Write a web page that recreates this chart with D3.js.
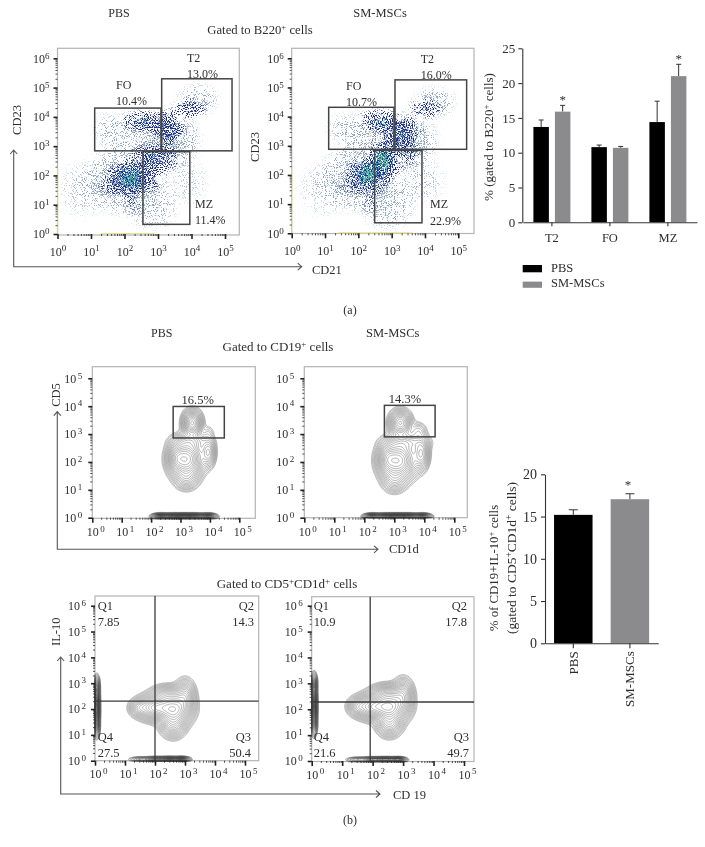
<!DOCTYPE html>
<html><head><meta charset="utf-8">
<script src="https://cdn.jsdelivr.net/npm/d3@7"></script>
<style>
html,body{margin:0;padding:0;background:#fff}
svg{display:block;filter:blur(.3px)}
text{font-family:"Liberation Serif",serif;fill:#2e2e2e;font-size:12px}
</style></head><body>
<svg id="chart" width="705" height="847"></svg>
<script>
// ---------- DATA ----------
const groupsA = ["T2","FO","MZ"];
const seriesNames = ["PBS","SM-MSCs"];
const barPBS_A   = [13.7,10.8,14.4];
const barSM_A    = [15.9,10.7,21.0];
const errPBS_A   = [14.7,11.1,17.4];
const errSM_A    = [16.8,10.9,22.7];
const starsA     = ["T2","MZ"];
const barB       = [15.2,17.05];
const errB       = [15.8,17.7];
const ticksBarA  = [0,5,10,15,20,25];
const ticksBarB  = [0,5,10,15,20];

// gates: [x from, x to, y from, y to] in decades
const gatesA1 = [[1.11,3.09,2.84,4.30],[3.11,5.21,2.84,5.30],[2.55,3.95,0.33,2.81]];
const gatesA2 = [[1.11,3.07,2.88,4.32],[3.10,5.25,2.88,5.26],[2.49,3.91,0.36,2.84]];
const gateB1  = [[2.75,4.49,2.86,3.99]];
const gateB2  = [[2.67,4.36,2.90,4.03]];
const quadB3  = [2.00,2.31];
const quadB4  = [1.92,2.28];
const pctA1 = ["T2","13.0%","FO","10.4%","MZ","11.4%"];
const pctA2 = ["T2","16.0%","FO","10.7%","MZ","22.9%"];
const pctB1 = "16.5%", pctB2 = "14.3%";
const quadTextB3 = ["7.85","14.3","27.5","50.4"];
const quadTextB4 = ["10.9","17.8","21.6","49.7"];

// pseudocolour density regions: [x, y, spread x, spread y, density] in decades
const haloA1 = [[1.9,1.8,1.3,1.3,.6],[2.8,1.0,.9,1.0,.4],[2.0,3.4,1.0,.8,.38],[3.3,3.2,1.1,1.1,.62],[3.9,1.8,.7,.9,.22],[0.7,1.5,.8,1.1,.24],[4.2,4.6,.7,.6,.45],[1.5,3.7,.6,.5,.16]];
const denseA1 = [[2.15,1.9,.8,.85,.78],[2.75,2.1,.6,.8,.5],[2.55,3.85,.8,.4,.68],[3.3,3.6,.6,.7,.74],[3.95,4.3,.6,.42,.55],[2.75,2.7,.65,.5,.6],[3.3,2.6,.6,.5,.42],[1.5,1.7,.5,.5,.28],[2.3,1.0,.4,.4,.26]];
const coreA1 = [[2.2,1.9,.45,.52,.65],[2.6,3.85,.32,.16,.34],[2.85,2.55,.35,.28,.3],[3.3,3.6,.25,.3,.14]];
const hotA1 = [[2.2,1.9,.2,.24,.38]];
const haloA2 = [[2.0,1.9,1.3,1.3,.6],[2.9,1.0,.9,1.0,.42],[2.1,3.4,1.0,.8,.38],[3.4,3.2,1.1,1.1,.62],[3.9,1.8,.8,.9,.28],[0.9,1.5,.8,1.1,.22],[4.3,4.5,.7,.6,.45],[1.5,3.7,.6,.5,.16]];
const denseA2 = [[2.3,2.0,.75,.85,.78],[2.8,2.4,.6,.75,.62],[2.65,3.85,.8,.45,.64],[3.35,3.45,.65,.7,.7],[4.05,4.3,.6,.42,.5],[2.85,3.0,.65,.5,.55],[3.4,2.7,.6,.55,.38],[1.7,1.7,.55,.5,.28],[2.4,1.0,.4,.45,.26]];
const coreA2 = [[2.3,2.05,.45,.55,.65],[2.75,2.5,.38,.55,.65],[2.7,3.85,.38,.22,.38],[3.3,3.4,.38,.3,.28]];
const hotA2 = [[2.35,2.05,.24,.3,.42],[2.78,2.5,.2,.32,.46]];
const pileA1 = [1.3,2.9], pileA2 = [1.4,3.6];

// contour components: [x, y, sigma x, sigma y, weight] in decades
const contourB1 = [[3.2,2.1,.3,.36,1],[3.4,3.4,.17,.24,.72],[3.95,2.35,.13,.27,.36],[2.85,2.15,.16,.27,.34],[3.2,1.4,.22,.22,.22],[3.35,2.75,.35,.16,.2],[3.95,3.05,.12,.16,.05]];
const contourB2 = [[3.13,2.05,.32,.36,1],[3.2,3.4,.19,.24,.62],[3.9,2.3,.14,.3,.42],[2.75,2.1,.17,.3,.36],[3.0,1.35,.22,.24,.24],[3.4,2.7,.4,.17,.24],[3.8,3.1,.16,.18,.12]];
const contourB3 = [[2.65,2.0,.3,.32,1],[2.0,2.05,.33,.25,.8],[1.45,2.05,.16,.17,.22],[3.0,2.5,.18,.33,.42],[2.6,1.4,.22,.27,.42],[2.4,2.55,.3,.2,.3]];
const contourB4 = [[2.6,2.1,.3,.32,1],[2.0,2.1,.33,.25,.8],[1.5,2.1,.16,.17,.22],[3.0,2.55,.18,.33,.42],[2.55,1.45,.22,.27,.42],[2.45,2.6,.3,.2,.3]];
const bandB1 = [[2.3,.05,.14,.05,1],[2.7,.05,.2,.05,1],[3.1,.05,.2,.05,1],[3.5,.05,.2,.05,1],[3.95,.05,.14,.05,1]];
const bandB2 = [[2.25,.05,.14,.05,1],[2.7,.05,.2,.05,1],[3.1,.05,.2,.05,1],[3.5,.05,.2,.05,1],[3.95,.05,.14,.05,1]];
const bandsB3 = [[1.5,.05,.18,.05,.3],[2.0,.05,.2,.05,.7],[2.5,.05,.2,.05,1],[2.9,.05,.13,.05,1],[.06,1.35,.05,.22,.7],[.06,1.85,.05,.25,1],[.06,2.35,.05,.28,1],[.06,2.9,.05,.2,.6]];
const bandsB4 = [[1.5,.05,.18,.05,.3],[2.0,.05,.2,.05,.7],[2.45,.05,.2,.05,1],[2.85,.05,.13,.05,1],[.08,1.4,.05,.22,.6],[.08,1.9,.05,.25,.9],[.08,2.4,.05,.28,1],[.08,3.0,.05,.2,.7]];
const contourLevels = [.025,.035,.05,.065,.085,.11,.14,.175,.215,.26,.31,.37,.44,.52,.6,.69,.79,.9,1.02,1.15,1.3,1.45];
const bandLevels = [.03,.05,.08,.12,.17,.23,.3,.37,.44,.51,.58,.65,.72,.79,.86,.93,1.0,1.07,1.14,1.21];

// ---------- LAYOUT ----------
const panelA1 = {left:57.5,right:239.3,top:48.3,bottom:235,x0:57.5,x5:225,y0:234,yT:58.3,dec:6,xPad:8,yPad:4,xShift:0};
const panelA2 = {left:291.7,right:474,top:48.3,bottom:233.5,x0:291.7,x5:458.3,y0:233.3,yT:58.3,dec:6,xPad:8,yPad:4,xShift:0};
const panelB1 = {left:92.3,right:255.3,top:366.7,bottom:518.3,x0:92.3,x5:239.3,y0:517.7,yT:378.3,dec:5,xPad:5,yPad:6,xShift:3};
const panelB2 = {left:304.3,right:467.3,top:366.7,bottom:517.7,x0:304.3,x5:454.3,y0:517.7,yT:378.3,dec:5,xPad:5,yPad:6,xShift:3};
const panelB3 = {left:95,right:258.7,top:596,bottom:760.7,x0:95,x5:245,y0:760.7,yT:605.7,dec:6,xPad:4,yPad:5,xShift:3};
const panelB4 = {left:311.7,right:474,top:596.7,bottom:761.5,x0:311.7,x5:464,y0:761,yT:605.7,dec:6,xPad:4,yPad:5,xShift:3};

const svg = d3.select("#chart");
const defs = svg.append("defs");
const INK = "#2e2e2e";
const fade = defs.append("radialGradient").attr("id","fade");
fade.append("stop").attr("offset",0).attr("stop-color","#000").attr("stop-opacity",1);
fade.append("stop").attr("offset",.55).attr("stop-color","#000").attr("stop-opacity",.62);
fade.append("stop").attr("offset",1).attr("stop-color","#000").attr("stop-opacity",0);

function scalesOf(p){
  return {
    x:d3.scaleLog().domain([1,1e5]).range([p.x0,p.x5]),
    y:d3.scaleLog().domain([1,10**p.dec]).range([p.y0,p.yT])
  };
}
let clipN=0, filtN=0;
function frameClip(p){
  const id="clip"+(clipN++);
  defs.append("clipPath").attr("id",id).append("rect")
    .attr("x",p.left).attr("y",p.top).attr("width",p.right-p.left).attr("height",p.bottom-p.top);
  return "url(#"+id+")";
}
function drawFrame(p){
  svg.append("rect").attr("x",p.left).attr("y",p.top).attr("width",p.right-p.left).attr("height",p.bottom-p.top)
    .attr("fill","none").attr("stroke","#b4b4b4").attr("stroke-width",1.2);
}
function drawAxes(p,s,fontSize){
  const g=svg.append("g");
  const minors=(sc,n)=>d3.range(0,n).flatMap(k=>d3.range(2,10).map(m=>m*10**k));
  const powers=n=>d3.range(0,n+1).map(k=>10**k);
  const style=(sel,w)=>{sel.select(".domain").remove();sel.selectAll("line").attr("stroke","#222").attr("stroke-width",w);};
  g.append("g").attr("transform",`translate(0,${p.y0})`).call(d3.axisBottom(s.x).tickValues(minors(s.x,5)).tickSize(2).tickFormat("")).call(style,.8);
  g.append("g").attr("transform",`translate(${p.x0},0)`).call(d3.axisLeft(s.y).tickValues(minors(s.y,p.dec)).tickSize(2).tickFormat("")).call(style,.8);
  const sup=(sel)=>sel.selectAll("text").each(function(d){
    d3.select(this).append("tspan").attr("dy","-0.45em").attr("dx",p.xShift?1.5:0).attr("font-size",fontSize-4+"px").text(Math.round(Math.log10(d)));
  });
  const xg=g.append("g").attr("transform",`translate(0,${p.y0})`)
    .call(d3.axisBottom(s.x).tickValues(powers(5)).tickSize(5).tickPadding(p.xPad).tickFormat(()=>"10")).call(style,1.6);
  xg.selectAll("text").attr("font-size",fontSize+"px").attr("font-family",null).attr("dx",p.xShift);
  sup(xg);
  const yg=g.append("g").attr("transform",`translate(${p.x0},0)`)
    .call(d3.axisLeft(s.y).tickValues(powers(p.dec)).tickSize(4).tickPadding(p.yPad).tickFormat(()=>"10")).call(style,1.6);
  yg.selectAll("text").attr("font-size",fontSize+"px");
  sup(yg);
  g.selectAll("text").attr("font-family",null).style("font-family",'"Liberation Serif",serif').style("fill",INK);
}
function drawGates(s,gates){
  svg.append("g").selectAll("rect").data(gates).join("rect")
    .attr("x",d=>s.x(10**d[0])).attr("y",d=>s.y(10**d[3]))
    .attr("width",d=>s.x(10**d[1])-s.x(10**d[0])).attr("height",d=>s.y(10**d[2])-s.y(10**d[3]))
    .attr("fill","none").attr("stroke","#444").attr("stroke-width",1.5);
}
// speckled density layer: the regions are blurred and broken into dots by an SVG filter
function speckLayer(parent,p,s,regions,color,blur,seed,freq){
  const id="speck"+(filtN++);
  const f=defs.append("filter").attr("id",id).attr("filterUnits","userSpaceOnUse")
    .attr("x",p.left).attr("y",p.top).attr("width",p.right-p.left).attr("height",p.bottom-p.top)
    .attr("color-interpolation-filters","sRGB");
  f.append("feGaussianBlur").attr("in","SourceAlpha").attr("stdDeviation",blur).attr("result","dens");
  f.append("feTurbulence").attr("type","fractalNoise").attr("baseFrequency",freq).attr("numOctaves",1).attr("seed",seed).attr("result","n");
  f.append("feColorMatrix").attr("in","n").attr("values","0 0 0 0 0 0 0 0 0 0 0 0 0 0 0 0 0 0 3.4 -1.2").attr("result","na");
  f.append("feComposite").attr("in","dens").attr("in2","na").attr("operator","arithmetic")
    .attr("k1",0).attr("k2",1).attr("k3",1).attr("k4",-1).attr("result","sum");
  const ct=f.append("feComponentTransfer").attr("in","sum").attr("result","mask");
  ct.append("feFuncA").attr("type","linear").attr("slope",4);
  f.append("feFlood").attr("flood-color",color).attr("result","col");
  f.append("feComposite").attr("in","col").attr("in2","mask").attr("operator","in");
  const dx=s.x(10)-s.x(1), dy=s.y(1)-s.y(10);
  parent.append("g").attr("filter","url(#"+id+")").selectAll("ellipse").data(regions).join("ellipse")
    .attr("cx",d=>s.x(10**d[0])).attr("cy",d=>s.y(10**d[1]))
    .attr("rx",d=>d[2]*dx).attr("ry",d=>d[3]*dy).attr("fill","url(#fade)").attr("fill-opacity",d=>d[4]);
}
function drawScatter(p,s,layers,pile,seed){
  const g=svg.append("g").attr("clip-path",frameClip(p));
  speckLayer(g,p,s,layers.halo,"#8fa7bf",3,seed,1.1);
  speckLayer(g,p,s,layers.dense,"#1f2f8a",2,seed+1,1.05);
  speckLayer(g,p,s,layers.core,"#37aeae",2,seed+2,.9);
  speckLayer(g,p,s,layers.hot,"#62cb7c",1.5,seed+3,.8);
  svg.append("line").attr("x1",s.x(10**pile[0])).attr("x2",s.x(10**pile[1])).attr("y1",p.y0-.5).attr("y2",p.y0-.5)
    .attr("stroke","#e7e38c").attr("stroke-width",1.2);
  svg.append("line").attr("x1",p.left+.5).attr("x2",p.left+.5).attr("y1",s.y(10**2.3)).attr("y2",p.y0)
    .attr("stroke","#eeecae").attr("stroke-width",1);
}
function drawContours(p,s,comps,bands){
  const w=Math.round(p.right-p.left), h=Math.round(p.bottom-p.top);
  const field=(list)=>{
    const vals=new Float64Array(w*h);
    for(let j=0;j<h;j++)for(let i=0;i<w;i++){
      const dx=Math.log10(s.x.invert(p.left+i+.5)), dy=Math.log10(s.y.invert(p.top+j+.5));
      let v=0;
      for(const c of list){const a=(dx-c[0])/c[2],b=(dy-c[1])/c[3];v+=c[4]*Math.exp(-.5*(a*a+b*b));}
      vals[i+j*w]=v;
    }
    return vals;
  };
  const g=svg.append("g").attr("transform",`translate(${p.left},${p.top})`).attr("fill","none");
  const path=d3.geoPath();
  const gen=d3.contours().size([w,h]).smooth(true);
  g.append("g").attr("stroke","#858585").attr("stroke-width",.6).selectAll("path")
    .data(gen.thresholds(contourLevels)(field(comps))).join("path").attr("d",path);
  g.append("g").attr("stroke","#3c3c3c").attr("stroke-width",.55).attr("stroke-opacity",.8).selectAll("path")
    .data(gen.thresholds(bandLevels)(field(bands))).join("path").attr("d",path);
}
function text(x,y,str,opts={}){
  const t=svg.append("text").attr("x",x).attr("y",y).attr("text-anchor",opts.anchor||"start");
  if(opts.size)t.style("font-size",opts.size+"px");
  if(opts.rotate)t.attr("transform",`rotate(-90 ${x} ${y})`);
  const parts=Array.isArray(str)?str:[str];
  let raised=false;
  parts.forEach((s)=>{
    const isSup=s.startsWith("^");
    const ts=t.append("tspan").text(isSup?s.slice(1):s);
    if(isSup){ts.attr("dy",-4).style("font-size",(opts.size||12)-4+"px");raised=true;}
    else if(raised){ts.attr("dy",4);raised=false;}
  });
  return t;
}
function arrows(vx,yBottom,yTop,xEnd){
  svg.append("path").attr("fill","none").attr("stroke","#555").attr("stroke-width",1.1)
    .attr("d",`M${vx-3.5},${yTop+4}L${vx},${yTop}L${vx+3.5},${yTop+4}M${vx},${yTop}V${yBottom}H${xEnd}M${xEnd-4},${yBottom-3.5}L${xEnd},${yBottom}L${xEnd-4},${yBottom+3.5}`);
}

// ---------- PANEL (a) ----------
const sA1=scalesOf(panelA1), sA2=scalesOf(panelA2);
drawFrame(panelA1); drawFrame(panelA2);
drawScatter(panelA1,sA1,{halo:haloA1,dense:denseA1,core:coreA1,hot:hotA1},pileA1,11);
drawScatter(panelA2,sA2,{halo:haloA2,dense:denseA2,core:coreA2,hot:hotA2},pileA2,23);
drawAxes(panelA1,sA1,13); drawAxes(panelA2,sA2,13);
drawGates(sA1,gatesA1); drawGates(sA2,gatesA2);
arrows(13.7,266.7,150,301.7);
text(119,17,"PBS",{anchor:"middle"});
text(380,17,"SM-MSCs",{anchor:"middle",size:12.5});
text(260,34,["Gated to B220","^+"," cells"],{anchor:"middle",size:12.7});
text(20.5,120,"CD23",{anchor:"middle",rotate:true,size:12.5});
text(258.5,147,"CD23",{anchor:"middle",rotate:true,size:12.5});
text(312,274,"CD21",{size:12.5});
text(350,314,"(a)",{anchor:"middle"});
[[187,62],[187,78],[116,89],[116,105],[195,208],[195,224]].forEach((q,i)=>text(q[0],q[1],pctA1[i]));
[[420.7,63],[420.7,78.7],[346,90],[346,105.7],[430,208],[430,225]].forEach((q,i)=>text(q[0],q[1],pctA2[i]));

// bar chart (a)
const yBarA=d3.scaleLinear().domain([0,25]).range([222.3,48.3]);
const xBarA=d3.scaleBand().domain(groupsA).range([522.9,696.9]);
const xInnerA=d3.scaleBand().domain(seriesNames).range([-18.5,18.5]).paddingInner(.28);
const barColors=d3.scaleOrdinal().domain(seriesNames).range(["#000000","#8b8b8d"]);
const barsA=groupsA.flatMap((g,i)=>[
  {g,s:"PBS",v:barPBS_A[i],e:errPBS_A[i]},
  {g,s:"SM-MSCs",v:barSM_A[i],e:errSM_A[i]}
]);
const bgA=svg.append("g");
const cx=d=>xBarA(d.g)+xBarA.bandwidth()/2+xInnerA(d.s);
bgA.selectAll("path").data(barsA).join("path").attr("fill","none").attr("stroke","#333").attr("stroke-width",1)
  .attr("d",d=>{const m=cx(d)+xInnerA.bandwidth()/2;return `M${m},${yBarA(d.v)}V${yBarA(d.e)}M${m-2.5},${yBarA(d.e)}H${m+2.5}`;});
bgA.selectAll("rect").data(barsA).join("rect").attr("x",cx).attr("width",xInnerA.bandwidth())
  .attr("y",d=>yBarA(d.v)).attr("height",d=>yBarA(0)-yBarA(d.v)).attr("fill",d=>barColors(d.s));
function styleBarAxis(sel,size){
  sel.selectAll("line,path").attr("stroke","#333").attr("stroke-width",1.1);
  sel.selectAll("text").attr("font-family",null).style("font-family",'"Liberation Serif",serif').style("font-size",size+"px").style("fill",INK);
}
svg.append("g").attr("transform","translate(522.3,0)")
  .call(d3.axisLeft(yBarA).tickValues(ticksBarA).tickSize(4).tickSizeOuter(0).tickPadding(3)).call(styleBarAxis,13);
svg.append("g").attr("transform","translate(0,222.3)")
  .call(d3.axisBottom(xBarA).tickSize(4).tickSizeOuter(0).tickPadding(7)).call(styleBarAxis,12.5);
starsA.forEach(g=>{
  const i=groupsA.indexOf(g);
  const m=xBarA(g)+xBarA.bandwidth()/2+xInnerA("SM-MSCs")+xInnerA.bandwidth()/2;
  text(m,yBarA(errSM_A[i])-1,"*",{anchor:"middle",size:13});
});
text(492.5,137,["% (gated to B220","^+"," cells)"],{anchor:"middle",rotate:true,size:13});
const legend=svg.append("g");
legend.selectAll("rect").data(seriesNames).join("rect").attr("x",522.7).attr("width",19.3)
  .attr("y",(d,i)=>265+i*16.6).attr("height",(d,i)=>i?6.2:7.3).attr("fill",d=>barColors(d));
text(551,271.7,seriesNames[0],{size:12.5});
text(551,287.3,seriesNames[1],{size:12.5});

// ---------- PANEL (b) upper ----------
const sB1=scalesOf(panelB1), sB2=scalesOf(panelB2), sB3=scalesOf(panelB3), sB4=scalesOf(panelB4);
[panelB1,panelB2,panelB3,panelB4].forEach(drawFrame);
drawContours(panelB1,sB1,contourB1,bandB1);
drawContours(panelB2,sB2,contourB2,bandB2);
drawAxes(panelB1,sB1,13); drawAxes(panelB2,sB2,13);
drawGates(sB1,gateB1); drawGates(sB2,gateB2);
arrows(57.3,549.3,411.7,378);
text(161.7,337,"PBS",{anchor:"middle"});
text(392.7,337,"SM-MSCs",{anchor:"middle",size:12.5});
text(278,351,["Gated to CD19","^+"," cells"],{anchor:"middle",size:13});
text(59.5,395,"CD5",{anchor:"middle",rotate:true,size:12.5});
text(389,553,"CD1d",{size:12.5});
text(197.7,404,pctB1,{anchor:"middle",size:12.5});
text(405,403,pctB2,{anchor:"middle",size:12.5});

// ---------- PANEL (b) lower ----------
drawContours(panelB3,sB3,contourB3,bandsB3);
drawContours(panelB4,sB4,contourB4,bandsB4);
drawAxes(panelB3,sB3,13); drawAxes(panelB4,sB4,13);
function quad(p,s,q){
  const g=svg.append("g").attr("stroke","#3a3a3a").attr("stroke-width",1.3);
  g.append("line").attr("x1",s.x(10**q[0])).attr("x2",s.x(10**q[0])).attr("y1",p.top).attr("y2",p.bottom);
  g.append("line").attr("x1",p.left).attr("x2",p.right).attr("y1",s.y(10**q[1])).attr("y2",s.y(10**q[1]));
}
quad(panelB3,sB3,quadB3); quad(panelB4,sB4,quadB4);
arrows(60.7,794,657,380);
text(287,588,["Gated to CD5","^+","CD1d","^+"," cells"],{anchor:"middle",size:13});
text(60,631.7,"IL-10",{anchor:"middle",rotate:true,size:12.5});
text(393,799,"CD 19",{size:12.5});
text(350,824,"(b)",{anchor:"middle"});
function quadLabels(l,rQ2,rQ3,vals){
  text(l,610,"Q1",{size:12.5}); text(l,626,vals[0],{size:12.5});
  text(rQ2,610,"Q2",{anchor:"end",size:12.5}); text(rQ2,626,vals[1],{anchor:"end",size:12.5});
  text(l,741,"Q4",{size:12.5}); text(l,757,vals[2],{size:12.5});
  text(rQ3,741,"Q3",{anchor:"end",size:12.5}); text(rQ3,757,vals[3],{anchor:"end",size:12.5});
}
quadLabels(97.7,254,251,quadTextB3);
quadLabels(313.7,467,469,quadTextB4);

// bar chart (b)
const yBarB=d3.scaleLinear().domain([0,20]).range([643.3,474.3]);
const xBarB=d3.scaleBand().domain(seriesNames).range([545,658.2]).paddingInner(.32).paddingOuter(.16);
const barsB=seriesNames.map((s,i)=>({s,v:barB[i],e:errB[i]}));
const bgB=svg.append("g");
bgB.selectAll("path").data(barsB).join("path").attr("fill","none").attr("stroke","#333").attr("stroke-width",1)
  .attr("d",d=>{const m=xBarB(d.s)+xBarB.bandwidth()/2;return `M${m},${yBarB(d.v)}V${yBarB(d.e)}M${m-4.5},${yBarB(d.e)}H${m+4.5}`;});
bgB.selectAll("rect").data(barsB).join("rect").attr("x",d=>xBarB(d.s)).attr("width",xBarB.bandwidth())
  .attr("y",d=>yBarB(d.v)).attr("height",d=>yBarB(0)-yBarB(d.v)).attr("fill",d=>barColors(d.s));
svg.append("g").attr("transform","translate(545,0)")
  .call(d3.axisLeft(yBarB).tickValues(ticksBarB).tickSize(4).tickSizeOuter(0).tickPadding(4)).call(styleBarAxis,14);
const xaB=svg.append("g").attr("transform","translate(0,643.3)")
  .call(d3.axisBottom(xBarB).tickSize(5).tickSizeOuter(0).tickPadding(3)).call(styleBarAxis,13);
xaB.selectAll("text").attr("transform","rotate(-90)").attr("text-anchor","end").attr("x",-8).attr("y",0).attr("dy",".35em");
text(628,489,"*",{anchor:"middle",size:13});
text(498,568,["% of CD19+IL-10","^+"," cells"],{anchor:"middle",rotate:true,size:12.8});
text(515.5,558,["(gated to CD5","^+","CD1d","^+"," cells)"],{anchor:"middle",rotate:true,size:13.5});
</script>
</body></html>
